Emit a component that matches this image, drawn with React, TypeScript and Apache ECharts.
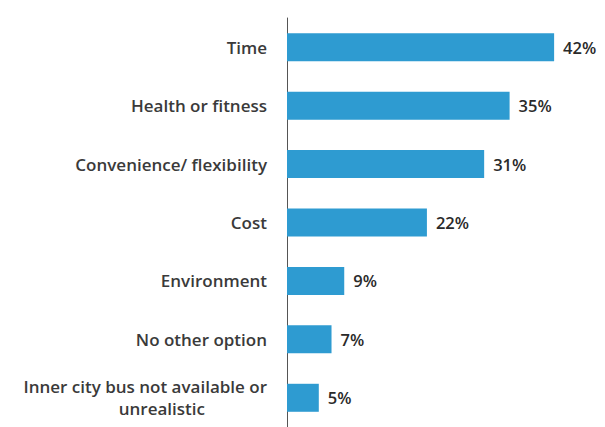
import React, { useEffect, useRef } from "react";
import * as echarts from "echarts";

const categories = [
  "Time",
  "Health or fitness",
  "Convenience/ flexibility",
  "Cost",
  "Environment",
  "No other option",
  "Inner city bus not available or\nunrealistic",
];
const values = [42, 35, 31, 22, 9, 7, 5];

export default function App() {
  const ref = useRef<HTMLDivElement>(null);
  useEffect(() => {
    if (!ref.current) return;
    const chart = echarts.init(ref.current, null, { renderer: "svg" });
    chart.setOption({
      animation: false,
      grid: { left: 287, top: 18, width: 322, height: 412, containLabel: false },
      xAxis: {
        type: "value",
        min: 0,
        max: 50,
        show: false,
      },
      yAxis: {
        type: "category",
        inverse: true,
        data: categories,
        axisLine: { show: true, lineStyle: { color: "#555", width: 1 } },
        axisTick: { show: false },
        axisLabel: {
          margin: 20,
          color: "#3a3a3a",
          fontSize: 17,
          fontFamily: "Open Sans",
          fontWeight: 600,
          lineHeight: 22,
          align: "right",
          formatter: (v: string) => {
            const parts = v.split("\n");
            if (parts.length === 1) return v;
            return `{a|${parts[0]}}\n{b|${parts[1]}}`;
          },
          rich: {
            a: { fontSize: 17, fontFamily: "Open Sans", fontWeight: 600, color: "#3a3a3a", lineHeight: 22 },
            b: { fontSize: 17, fontFamily: "Open Sans", fontWeight: 600, color: "#3a3a3a", lineHeight: 22, padding: [0, 62, 0, 0] },
          },
        },
      },
      series: [
        {
          type: "bar",
          data: values,
          barWidth: 28,
          itemStyle: { color: "#2e9bd1" },
          label: {
            show: true,
            position: "right",
            distance: 9,
            formatter: "{c}%",
            color: "#2a2a2a",
            fontSize: 16.5,
            fontWeight: 600,
            fontFamily: "Open Sans",
          },
        },
      ],
    });
    return () => chart.dispose();
  }, []);
  return <div ref={ref} style={{ width: 605, height: 427, position: "absolute", left: 0, top: 0, background: "#fff" }} />;
}
